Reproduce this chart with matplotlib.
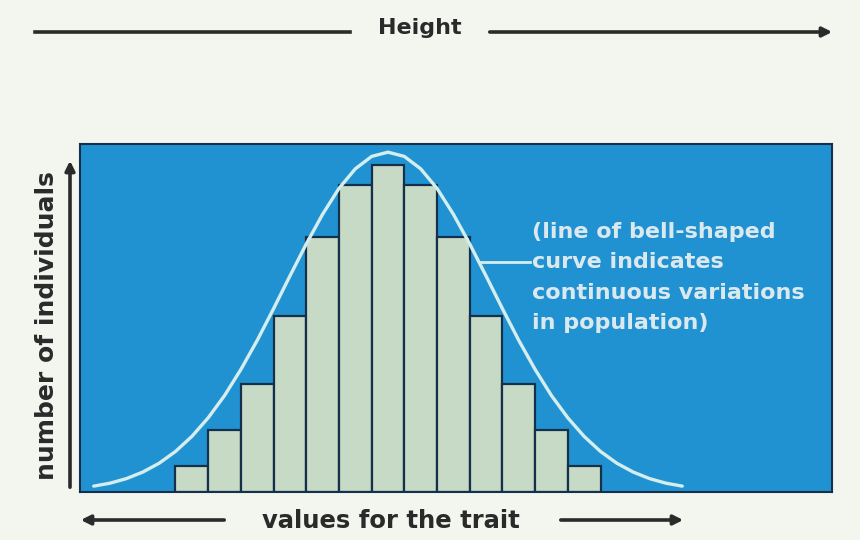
import matplotlib.pyplot as plt
from matplotlib.patches import FancyArrowPatch

# histogram bars (13 classes), heights in arbitrary units of "number of individuals"
bar_pos = [1, 2, 3, 4, 5, 6, 7, 8, 9, 10, 11, 12, 13]
bar_height = [8, 19, 33, 54, 78, 94, 100, 94, 78, 54, 33, 19, 8]

# bell-shaped curve
curve_x = [-2.0, -1.5, -1.0, -0.5, 0.0, 0.5, 1.0, 1.5, 2.0, 2.5, 3.0, 3.5, 4.0,
           4.5, 5.0, 5.5, 6.0, 6.5, 7.0, 7.5, 8.0, 8.5, 9.0, 9.5, 10.0, 10.5,
           11.0, 11.5, 12.0, 12.5, 13.0, 13.5, 14.0, 14.5, 15.0, 15.5, 16.0]
curve_y = [1.8, 2.7, 4.1, 6.1, 8.8, 12.4, 17.0, 22.7, 29.5, 37.5, 46.4, 56.1, 66.1,
           75.9, 85.0, 92.9, 98.9, 102.7, 104.0, 102.7, 98.9, 92.9, 85.0, 75.9, 66.1, 56.1,
           46.4, 37.5, 29.5, 22.7, 17.0, 12.4, 8.8, 6.1, 4.1, 2.7, 1.8]

note_lines = ["(line of bell-shaped", "curve indicates",
              "continuous variations", "in population)"]

BG = '#f3f5ef'
PANEL = '#2192d1'
BAR = '#c6dac6'
EDGE = '#14304a'
CURVE = '#d4eeee'
INK = '#2a2a2a'
NOTE = '#dbe9ef'

plt.rcParams['font.family'] = ['DejaVu Sans']

fig = plt.figure(figsize=(8.6, 5.4), dpi=100, facecolor=BG)
ax = fig.add_axes([80 / 860, 48 / 540, 752 / 860, 348 / 540])
ax.set_facecolor(PANEL)

ax.bar(bar_pos, bar_height, width=1.0, color=BAR, edgecolor=EDGE, linewidth=1.6, zorder=2)
ax.plot(curve_x, curve_y, color=CURVE, linewidth=2.4, zorder=3, solid_capstyle='round')

ax.set_xlim(-2.42, 20.58)
ax.set_ylim(0, 106.5)
ax.set_xticks([])
ax.set_yticks([])
for sp in ax.spines.values():
    sp.set_color(EDGE)
    sp.set_linewidth(1.5)

# annotation text with leader line
for i, line in enumerate(note_lines):
    ax.text(11.4, 79.6 - i * 9.3, line, color=NOTE, fontsize=16, fontweight='bold',
            va='center', ha='left', zorder=4)
ax.plot([9.85, 11.35], [70.3, 70.3], color=CURVE, linewidth=2, zorder=4)

# figure-level labels and arrows
arrow_kw = dict(arrowstyle='-|>', color=INK, lw=2.6, mutation_scale=14)


def fig_arrow(x0, y0, x1, y1):
    fig.patches.append(FancyArrowPatch((x0 / 860, 1 - y0 / 540), (x1 / 860, 1 - y1 / 540),
                                       transform=fig.transFigure, figure=fig, **arrow_kw))


fig.text(420 / 860, 1 - 28 / 540, 'Height', fontsize=16, fontweight='bold',
         color=INK, ha='center', va='center')
fig.add_artist(plt.Line2D([35 / 860, 350 / 860], [1 - 32 / 540, 1 - 32 / 540],
                          color=INK, lw=2.6))
fig_arrow(487, 32, 835, 32)

fig.text(47 / 860, 1 - 326 / 540, 'number of individuals', fontsize=18, fontweight='bold',
         color=INK, ha='center', va='center', rotation=90)
fig_arrow(70, 490, 70, 158)

fig.text(391 / 860, 1 - 521 / 540, 'values for the trait', fontsize=17.5, fontweight='bold',
         color=INK, ha='center', va='center')
fig_arrow(227, 520, 78, 520)
fig_arrow(558, 520, 686, 520)

fig.savefig('out.png', dpi=100, facecolor=BG)
